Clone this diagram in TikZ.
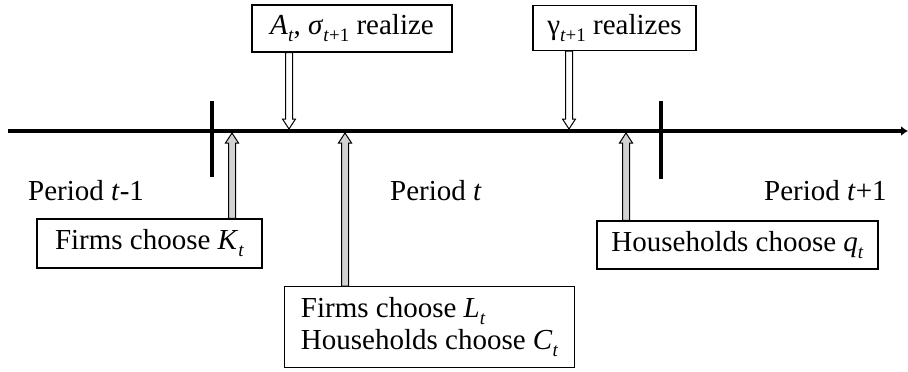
\documentclass[tikz,border=0pt]{standalone}
\usepackage{fontspec}
\setmainfont{Liberation Serif}
\usetikzlibrary{arrows.meta,calc}
\newcommand\sbs[1]{\raisebox{-0.24em}{\fontsize{19}{19}\selectfont #1}}
\newcommand\fatdown[3]{\draw[fatline,fill=#3] let \p1=(#1),\p2=(#2) in
  (\x1-3.5pt,\y1) -- (\x1-3.5pt,\y2+10pt) -- (\x1-6.5pt,\y2+10pt) -- (\x1,\y2)
  -- (\x1+6.5pt,\y2+10pt) -- (\x1+3.5pt,\y2+10pt) -- (\x1+3.5pt,\y1) -- cycle;}
\newcommand\fatup[3]{\draw[fatline,fill=#3] let \p1=(#1),\p2=(#2) in
  (\x1-3.5pt,\y1) -- (\x1-3.5pt,\y2-10pt) -- (\x1-6.5pt,\y2-10pt) -- (\x1,\y2)
  -- (\x1+6.5pt,\y2-10pt) -- (\x1+3.5pt,\y2-10pt) -- (\x1+3.5pt,\y1) -- cycle;}
\begin{document}
\begin{tikzpicture}[x=1pt,y=-1pt,
  every node/.style={font=\fontsize{29}{31}\selectfont},
  evbox/.style={draw,line width=1.2pt,inner sep=0pt,fill=white},
  fatline/.style={draw=black,line width=1pt,line join=miter},
  tickline/.style={line width=4.5pt},
  axis/.style={line width=4pt,-{Latex[length=7pt,width=10pt]}},
  plabel/.style={anchor=base west,inner sep=0pt}]
\useasboundingbox (0,0) rectangle (908,372);
% timeline
\coordinate (L0) at (8,131);
\coordinate (L1) at (908,131);
\draw[axis] (L0) -- (L1);
% ticks
\coordinate (T1a) at (212,101); \coordinate (T1b) at (212,177);
\coordinate (T2a) at (661,101); \coordinate (T2b) at (661,179);
\draw[tickline] (T1a) -- (T1b);
\draw[tickline] (T2a) -- (T2b);
% period labels
\node[plabel] (p1) at (28,200) {Period \textit{t}-1};
\node[plabel] (p2) at (390,200) {Period \textit{t}};
\node[plabel] (p3) at (764,200) {Period \textit{t}+1};
% boxes
\node[evbox,minimum width=200pt,minimum height=47pt] (bA) at (352,28.5)
  {\textit{A}\sbs{\textit{t}}, \textit{σ}\sbs{\textit{t}+1} realize};
\node[evbox,minimum width=163pt,minimum height=45pt] (bG) at (614.5,28)
  {γ\sbs{\textit{t}+1} realizes};
\node[evbox,minimum width=225pt,minimum height=49pt] (bK) at (149.5,243.5)
  {Firms choose \textit{K}\sbs{\textit{t}}};
\node[evbox,minimum width=281pt,minimum height=48pt] (bQ) at (737.5,245)
  {Households choose \textit{q}\sbs{\textit{t}}};
\node[evbox,anchor=north west,minimum width=290pt,minimum height=81pt,
  align=left,inner xsep=14pt,font=\fontsize{29}{32}\selectfont] (bLC) at (284,286)
  {Firms choose \textit{L}\sbs{\textit{t}}\\Households choose \textit{C}\sbs{\textit{t}}};
% arrow points on the timeline
\coordinate (pA) at (289,129);
\coordinate (pG) at (569,129);
\coordinate (pK) at (232,133);
\coordinate (pL) at (345,133);
\coordinate (pQ) at (626,133);
\fatdown{bA.south -| pA}{pA}{white}
\fatdown{bG.south -| pG}{pG}{white}
\fatup{bK.north -| pK}{pK}{gray!35}
\fatup{bLC.north -| pL}{pL}{gray!35}
\fatup{bQ.north -| pQ}{pQ}{gray!35}
\end{tikzpicture}
\end{document}
